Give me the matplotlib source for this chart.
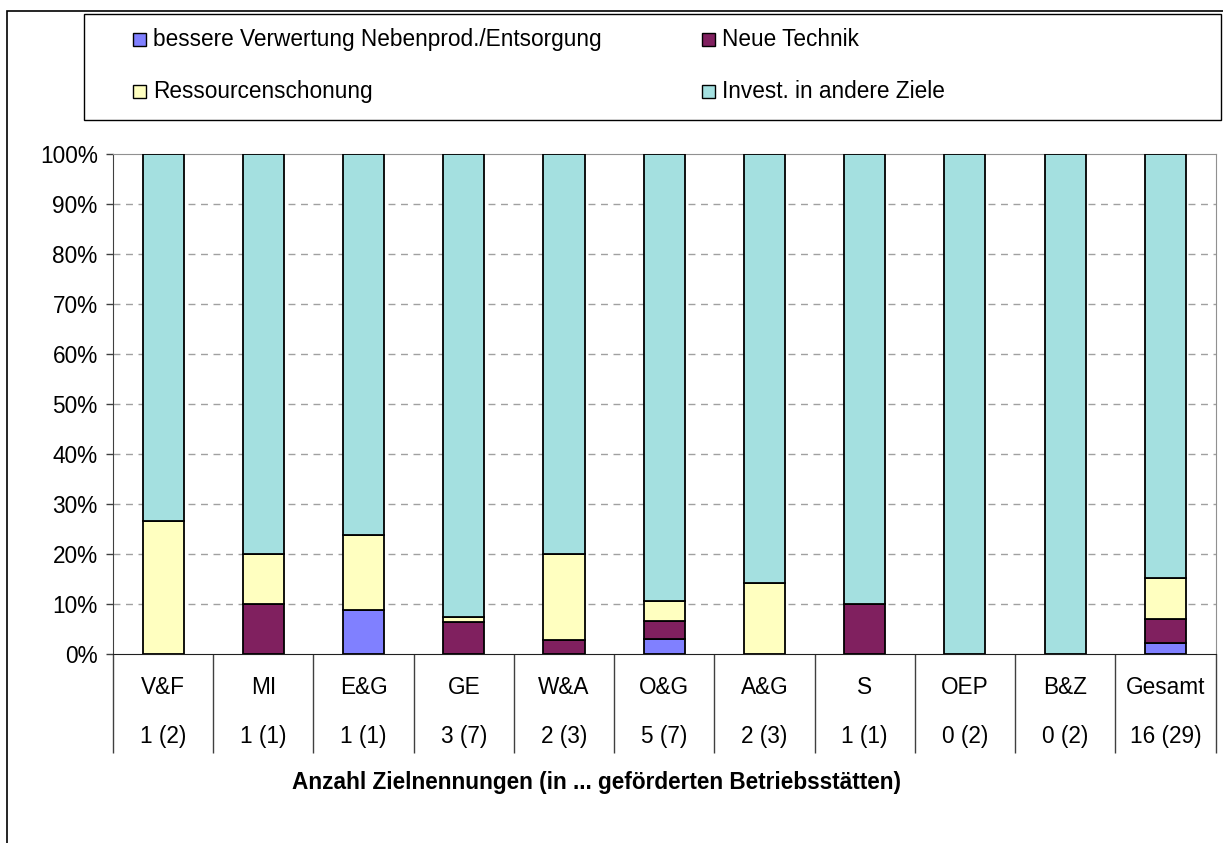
import numpy as np
import matplotlib.pyplot as plt
from matplotlib.patches import Rectangle

plt.rcParams['font.family'] = ['Liberation Sans', 'DejaVu Sans']

kategorien = ['V&F', 'MI', 'E&G', 'GE', 'W&A', 'O&G', 'A&G', 'S', 'OEP', 'B&Z', 'Gesamt']
anzahl = ['1 (2)', '1 (1)', '1 (1)', '3 (7)', '2 (3)', '5 (7)', '2 (3)', '1 (1)', '0 (2)', '0 (2)', '16 (29)']

# Anteile in %
verwertung = [0, 0, 8.8, 0, 0, 3.1, 0, 0, 0, 0, 2.3]
technik = [0, 10, 0, 6.4, 2.8, 3.5, 0, 10, 0, 0, 4.8]
ressourcen = [26.7, 10, 15.1, 1.0, 17.2, 4.0, 14.2, 0, 0, 0, 8.1]
andere = [73.3, 80, 76.1, 92.6, 80, 89.4, 85.8, 90, 100, 100, 84.8]

namen = ['bessere Verwertung Nebenprod./Entsorgung', 'Neue Technik',
         'Ressourcenschonung', 'Invest. in andere Ziele']
farben = ['#8080FF', '#80205F', '#FFFFC0', '#A4E0E0']
fs = 16.3

W, H = 1223, 843
fig = plt.figure(figsize=(12.23, 8.43), dpi=100)
ax = fig.add_axes([113 / W, 1 - 654 / H, (1215.5 - 113) / W, (654 - 154.3) / H])

x = np.arange(len(kategorien))
unten = np.zeros(len(x))
for werte, farbe in zip([verwertung, technik, ressourcen, andere], farben):
    ax.bar(x, werte, 0.41, bottom=unten, color=farbe, edgecolor='black', linewidth=1.3, zorder=3)
    unten = unten + np.array(werte)

ax.set_xlim(-0.5, len(x) - 0.5)
ax.set_ylim(0, 100)
ax.set_yticks(np.arange(0, 101, 10))
ax.set_yticklabels([f'{v}%' for v in range(0, 101, 10)], fontsize=fs)
for v in range(10, 100, 10):
    ax.axhline(v, color='#A0A0A0', lw=1, ls=(0, (5, 4)), zorder=1)
ax.tick_params(axis='y', length=5, width=1, color='#404040', pad=6)

# Trennlinien der Tabelle unter der Achse
ax.set_xticks([])
ax.set_xticks(np.arange(-0.5, len(x)), minor=True)
ax.tick_params(axis='x', which='minor', length=71, width=1, color='#404040')
for xi, k, n in zip(x, kategorien, anzahl):
    ax.text(xi, -0.068, k, transform=ax.get_xaxis_transform(), ha='center', va='center', fontsize=fs)
    ax.text(xi, -0.166, n, transform=ax.get_xaxis_transform(), ha='center', va='center', fontsize=fs)

ax.spines['left'].set_color('#404040')
ax.spines['bottom'].set_color('#202020')
ax.spines['top'].set_color('#909090')
ax.spines['right'].set_color('#909090')

fig.text(597 / W, 1 - 782 / H, 'Anzahl Zielnennungen (in ... geförderten Betriebsstätten)',
         ha='center', va='center', fontsize=fs, fontweight='bold')

# Legende
fig.patches.append(Rectangle((84.3 / W, 1 - 120 / H), (1221 - 84.3) / W, (120 - 14.3) / H,
                             transform=fig.transFigure, fill=False, edgecolor='black', lw=1))
pos = [(132.7, 39.5), (702.3, 39.5), (132.7, 91.5), (702.3, 91.5)]
for i, (px, py) in enumerate(pos):
    fig.patches.append(Rectangle((px / W, 1 - (py + 6.5) / H), 13 / W, 13 / H,
                                 transform=fig.transFigure, facecolor=farben[i], edgecolor='black', lw=1))
    fig.text((px + 20) / W, 1 - py / H, namen[i], ha='left', va='center', fontsize=fs)

# Rahmen
fig.patches.append(Rectangle((7.3 / W, -0.01), 1.01, 1 - 10.7 / H + 0.01,
                             transform=fig.transFigure, fill=False, edgecolor='black', lw=1.2))

fig.savefig('out.png', dpi=100)
